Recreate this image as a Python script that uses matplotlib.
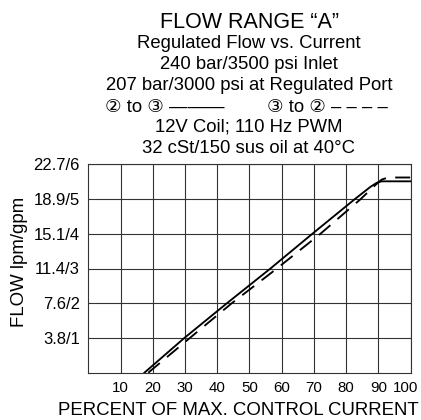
import matplotlib
matplotlib.use('Agg')
import matplotlib.pyplot as plt
from matplotlib.transforms import ScaledTranslation

plt.rcParams['font.family'] = ['Liberation Sans', 'DejaVu Sans']

# data (percent of current, flow in gpm)
solid_x = [17.4, 29.8, 43.0, 56.5, 69.5, 82.7, 87.5, 89.5, 91.0, 93.0, 100]
solid_y = [0.0, 1.0, 2.0, 3.0, 4.0, 5.0, 5.35, 5.47, 5.51, 5.51, 5.51]
dash_x = [18.6, 31.5, 44.5, 58.5, 72.0, 84.5, 89.0, 91.0, 93.0, 100]
dash_y = [0.0, 1.0, 2.0, 3.0, 4.0, 5.0, 5.4, 5.56, 5.62, 5.62]

x_ticks = [10, 20, 30, 40, 50, 60, 70, 80, 90, 100]
y_ticks = [1, 2, 3, 4, 5, 6]
y_labels = ['3.8/1', '7.6/2', '11.4/3', '15.1/4', '18.9/5', '22.7/6']

title_lines = ['Regulated Flow vs. Current', '240 bar/3500 psi Inlet',
               '207 bar/3000 psi at Regulated Port']
bottom_lines = ['12V Coil; 110 Hz PWM', '32 cSt/150 sus oil at 40\u00b0C']

W, H = 421, 420
fig = plt.figure(figsize=(W / 100, H / 100), dpi=100)
ax = fig.add_axes([88.3 / W, 1 - 372.7 / H, 322.4 / W, 208.4 / H])

ax.plot(solid_x, solid_y, color='black', lw=1.35)
ax.plot(dash_x, dash_y, color='black', lw=1.35, dashes=(8, 5))

ax.set_xlim(0, 100)
ax.set_ylim(0, 6)
ax.set_xticks(x_ticks)
ax.set_yticks(y_ticks)
ax.set_yticklabels(y_labels)
ax.set_xticklabels([str(t) for t in x_ticks])
ax.tick_params(length=0)
ax.tick_params(axis='y', pad=6, labelsize=12)
ax.tick_params(axis='x', pad=6, labelsize=10.8)
last = ax.get_xticklabels()[-1]
last.set_transform(last.get_transform() + ScaledTranslation(-0.055, 0, fig.dpi_scale_trans))
ax.grid(True, color='#333333', lw=0.8)
for s in ax.spines.values():
    s.set_linewidth(0.8)
    s.set_color('#333333')

def fy(py):
    return 1 - py / H

cx = 249 / W
fig.text(cx, fy(28), 'FLOW RANGE \u201cA\u201d', ha='center', va='baseline', fontsize=15.5)
for i, t in enumerate(title_lines):
    fig.text(cx, fy(48 + i * 21), t, ha='center', va='baseline', fontsize=13.3)
fig.text(164.5 / W, fy(111.5), '\u2461 to \u2462 \u2014\u2014\u2014', ha='center', va='baseline', fontsize=13.3)
fig.text(327.5 / W, fy(111.5), '\u2462 to \u2461 \u2013 \u2013 \u2013 \u2013', ha='center', va='baseline', fontsize=13.3)
for i, t in enumerate(bottom_lines):
    fig.text(cx, fy(131.5 + i * 21.5), t, ha='center', va='baseline', fontsize=13.3)

fig.text(418.3 / W, fy(415), 'PERCENT OF MAX. CONTROL CURRENT', ha='right', va='baseline', fontsize=13.4)
fig.text(19.5 / W, fy(262), 'FLOW lpm/gpm', ha='center', va='center', rotation=90, fontsize=13.4)

fig.savefig('out.png', dpi=100)
